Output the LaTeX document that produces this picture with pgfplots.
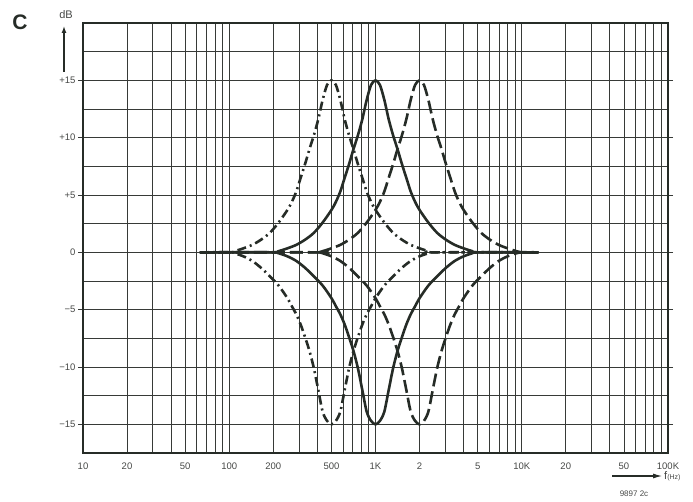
\documentclass[border=0pt]{standalone}
\usepackage{pgfplots}
\pgfplotsset{compat=1.18}
\usepackage{pgfplotstable}
\usepackage{fontspec}
\setmainfont{Liberation Sans}
\usetikzlibrary{arrows.meta}
\definecolor{ink}{RGB}{38,44,39}
\definecolor{gridc}{RGB}{55,58,55}
\definecolor{labc}{RGB}{70,72,70}

% f0 = 500 Hz (dash-dot)
\pgfplotstableread{
f up down
63 0 0
101.5 0 0
108.8 0.1 -0.08
125 0.35 -0.35
143.6 0.65 -0.75
164.9 1.1 -1.35
189.5 1.7 -2.1
217.6 2.6 -2.9
250 3.7 -4.0
267.9 4.4 -4.7
287.2 5.3 -5.4
307.8 6.5 -6.3
329.9 7.7 -7.4
353.6 9.0 -8.6
378.9 10.2 -10.1
406.1 11.6 -12.0
435.3 13.3 -13.9
466.5 14.6 -14.7
500 15 -15
535.9 14.6 -14.7
574.3 13.3 -13.9
615.6 11.6 -12.0
659.8 10.2 -10.1
707.1 9.0 -8.6
757.9 7.7 -7.4
812.3 6.5 -6.3
870.6 5.3 -5.4
933.0 4.4 -4.7
1000 3.7 -4.0
1148.7 2.6 -2.9
1319.5 1.7 -2.1
1515.7 1.1 -1.35
1741.1 0.65 -0.75
2000 0.35 -0.35
2297.4 0.1 -0.08
2462.3 0 0
13000 0 0
}\tabA

% f0 = 1 kHz (solid)
\pgfplotstableread{
f up down
63 0 0
203.1 0 0
217.6 0.1 -0.08
250 0.35 -0.35
287.2 0.65 -0.75
329.9 1.1 -1.35
378.9 1.7 -2.1
435.3 2.6 -2.9
500 3.7 -4.0
535.9 4.4 -4.7
574.3 5.3 -5.4
615.6 6.5 -6.3
659.8 7.7 -7.4
707.1 9.0 -8.6
757.9 10.2 -10.1
812.3 11.6 -12.0
870.6 13.3 -13.9
933.0 14.6 -14.7
1000 15 -15
1071.8 14.6 -14.7
1148.7 13.3 -13.9
1231.1 11.6 -12.0
1319.5 10.2 -10.1
1414.2 9.0 -8.6
1515.7 7.7 -7.4
1624.5 6.5 -6.3
1741.1 5.3 -5.4
1866.1 4.4 -4.7
2000 3.7 -4.0
2297.4 2.6 -2.9
2639.0 1.7 -2.1
3031.4 1.1 -1.35
3482.2 0.65 -0.75
4000 0.35 -0.35
4594.8 0.1 -0.08
4924.6 0 0
13000 0 0
}\tabB

% f0 = 2 kHz (dashed)
\pgfplotstableread{
f up down
63 0 0
406.1 0 0
435.3 0.1 -0.08
500 0.35 -0.35
574.3 0.65 -0.75
659.8 1.1 -1.35
757.9 1.7 -2.1
870.6 2.6 -2.9
1000 3.7 -4.0
1071.8 4.4 -4.7
1148.7 5.3 -5.4
1231.1 6.5 -6.3
1319.5 7.7 -7.4
1414.2 9.0 -8.6
1515.7 10.2 -10.1
1624.5 11.6 -12.0
1741.1 13.3 -13.9
1866.1 14.6 -14.7
2000 15 -15
2143.5 14.6 -14.7
2297.4 13.3 -13.9
2462.3 11.6 -12.0
2639.0 10.2 -10.1
2828.4 9.0 -8.6
3031.4 7.7 -7.4
3249.0 6.5 -6.3
3482.2 5.3 -5.4
3732.1 4.4 -4.7
4000 3.7 -4.0
4594.8 2.6 -2.9
5278.0 1.7 -2.1
6062.9 1.1 -1.35
6964.4 0.65 -0.75
8000 0.35 -0.35
9189.6 0.1 -0.08
9849.2 0 0
13000 0 0
}\tabC

\begin{document}
\begin{tikzpicture}
\path[use as bounding box] (0,0) rectangle (693pt,501pt);
\begin{axis}[
  at={(83pt,48pt)}, anchor=south west,
  width=585pt, height=430pt, scale only axis,
  xmode=log, log basis x=10,
  xmin=10, xmax=100000, ymin=-17.5, ymax=20,
  xtick={10,20,30,40,50,60,70,80,90,100,200,300,400,500,600,700,800,900,1000,2000,3000,4000,5000,6000,7000,8000,9000,10000,20000,30000,40000,50000,60000,70000,80000,90000,100000},
  xticklabels={10,20,,,50,,,,,100,200,,,500,,,,,1K,2,,,5,,,,,10K,20,,,50,,,,,100K},
  minor x tick num=0,
  ytick={-15,-10,-5,0,5,10,15},
  yticklabels={−15,−10,−5,0,+5,+10,+15},
  minor ytick={-12.5,-7.5,-2.5,2.5,7.5,12.5,17.5},
  grid=both,
  major grid style={draw=gridc, line width=0.8pt},
  minor grid style={draw=gridc, line width=0.8pt},
  xtick style={draw=none},
  ytick style={draw=gridc, line width=0.8pt},
  major tick length=5pt, minor tick length=0pt,
  tick align=outside,
  axis line style={draw=ink, line width=1.2pt},
  tick label style={font=\fontsize{9.5}{11}\selectfont, text=labc},
  yticklabel style={xshift=1pt},
  xticklabel style={yshift=-1pt},
]
\addplot[ink, line width=2.6pt, no markers, smooth, tension=0.5, dash pattern=on 9pt off 4pt on 2pt off 4pt] table[x=f, y=up] {\tabA};
\addplot[ink, line width=2.6pt, no markers, smooth, tension=0.5, dash pattern=on 9pt off 4pt on 2pt off 4pt] table[x=f, y=down] {\tabA};
\addplot[ink, line width=2.6pt, no markers, smooth, tension=0.5, solid] table[x=f, y=up] {\tabB};
\addplot[ink, line width=2.6pt, no markers, smooth, tension=0.5, solid] table[x=f, y=down] {\tabB};
\addplot[ink, line width=2.6pt, no markers, smooth, tension=0.5, dash pattern=on 13pt off 5pt] table[x=f, y=up] {\tabC};
\addplot[ink, line width=2.6pt, no markers, smooth, tension=0.5, dash pattern=on 13pt off 5pt] table[x=f, y=down] {\tabC};
\end{axis}
\node[text=ink, font=\fontsize{21}{21}\selectfont\bfseries] at (20pt,479pt) {C};
\draw[ink, line width=1.3pt, -{Latex[length=7pt,width=5pt]}] (64pt,429pt) -- (64pt,475pt);
\node[text=labc, font=\fontsize{11}{12}\selectfont] at (66pt,486pt) {dB};
\draw[ink, line width=1.6pt, -{Latex[length=10pt,width=5pt]}] (612pt,25pt) -- (663pt,25pt);
\node[anchor=west, text=labc, inner sep=0pt] at (664pt,25pt) {\fontsize{11}{12}\selectfont f\fontsize{7}{8}\selectfont(Hz)};
\node[text=labc, font=\fontsize{8}{9}\selectfont] at (634pt,7pt) {9897 2c};
\end{tikzpicture}
\end{document}
